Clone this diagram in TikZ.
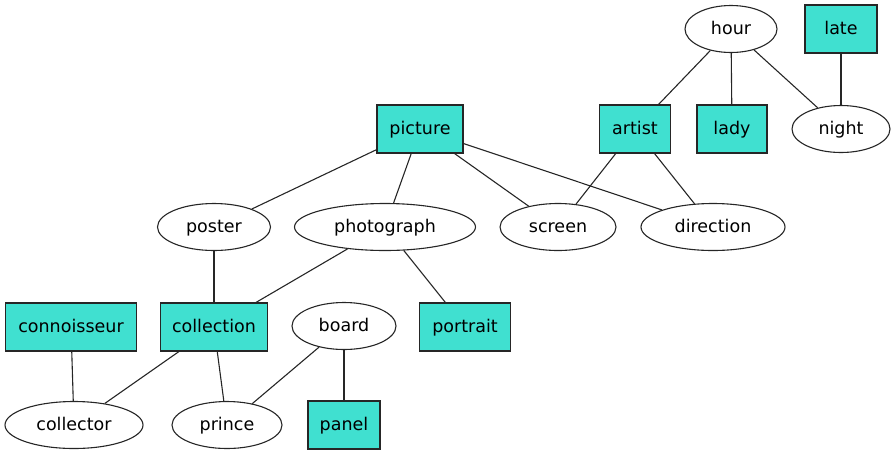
\documentclass[tikz,border=0pt]{standalone}
\usepackage{fontspec}
\setmainfont{DejaVu Sans}
\usetikzlibrary{shapes.geometric}
\definecolor{turq}{HTML}{40E0D0}
\tikzset{
  every node/.style={font=\fontsize{17.5}{20}\selectfont, inner sep=0pt, line width=1.1pt, draw=black!85, text height=13pt, text depth=3pt},
  boxn/.style={rectangle, fill=turq, minimum height=48pt},
  elln/.style={ellipse, fill=white, minimum height=47pt},
  edge/.style={line width=1.1pt, draw=black!85}
}
\begin{document}
\begin{tikzpicture}[x=1pt,y=-1pt]
\useasboundingbox (0,0) rectangle (896,456);
% row 1
\node[elln, minimum width=92pt] (hour) at (731,29) {hour};
\node[boxn, minimum width=72pt] (late) at (841,29) {late};
% row 2
\node[boxn, minimum width=86pt] (picture) at (420,129) {picture};
\node[boxn, minimum width=71pt] (artist) at (635,129) {artist};
\node[boxn, minimum width=70pt] (lady) at (732,129) {lady};
\node[elln, minimum width=98pt] (night) at (841,129) {night};
% row 3
\node[elln, minimum width=113pt] (poster) at (214,227) {poster};
\node[elln, minimum width=181pt] (photograph) at (385,227) {photograph};
\node[elln, minimum width=116pt] (screen) at (558,227) {screen};
\node[elln, minimum width=144pt] (direction) at (713,227) {direction};
% row 4
\node[boxn, minimum width=131pt] (connoisseur) at (71,327) {connoisseur};
\node[boxn, minimum width=107pt] (collection) at (214,327) {collection};
\node[elln, minimum width=104pt] (board) at (344,326) {board};
\node[boxn, minimum width=91pt] (portrait) at (465,327) {portrait};
% row 5
\node[elln, minimum width=138pt] (collector) at (74,425) {collector};
\node[elln, minimum width=110pt] (prince) at (227,425) {prince};
\node[boxn, minimum width=72pt] (panel) at (344,425) {panel};
% edges
\draw[edge] (hour) -- (artist);
\draw[edge] (hour) -- (lady);
\draw[edge] (hour) -- (night);
\draw[edge] (late) -- (night);
\draw[edge] (picture) -- (poster);
\draw[edge] (picture) -- (photograph);
\draw[edge] (picture) -- (screen);
\draw[edge] (picture) -- (direction);
\draw[edge] (artist) -- (screen);
\draw[edge] (artist) -- (direction);
\draw[edge] (poster) -- (collection);
\draw[edge] (photograph) -- (collection);
\draw[edge] (photograph) -- (portrait);
\draw[edge] (connoisseur) -- (collector);
\draw[edge] (collection) -- (collector);
\draw[edge] (collection) -- (prince);
\draw[edge] (board) -- (prince);
\draw[edge] (board) -- (panel);
\end{tikzpicture}
\end{document}
